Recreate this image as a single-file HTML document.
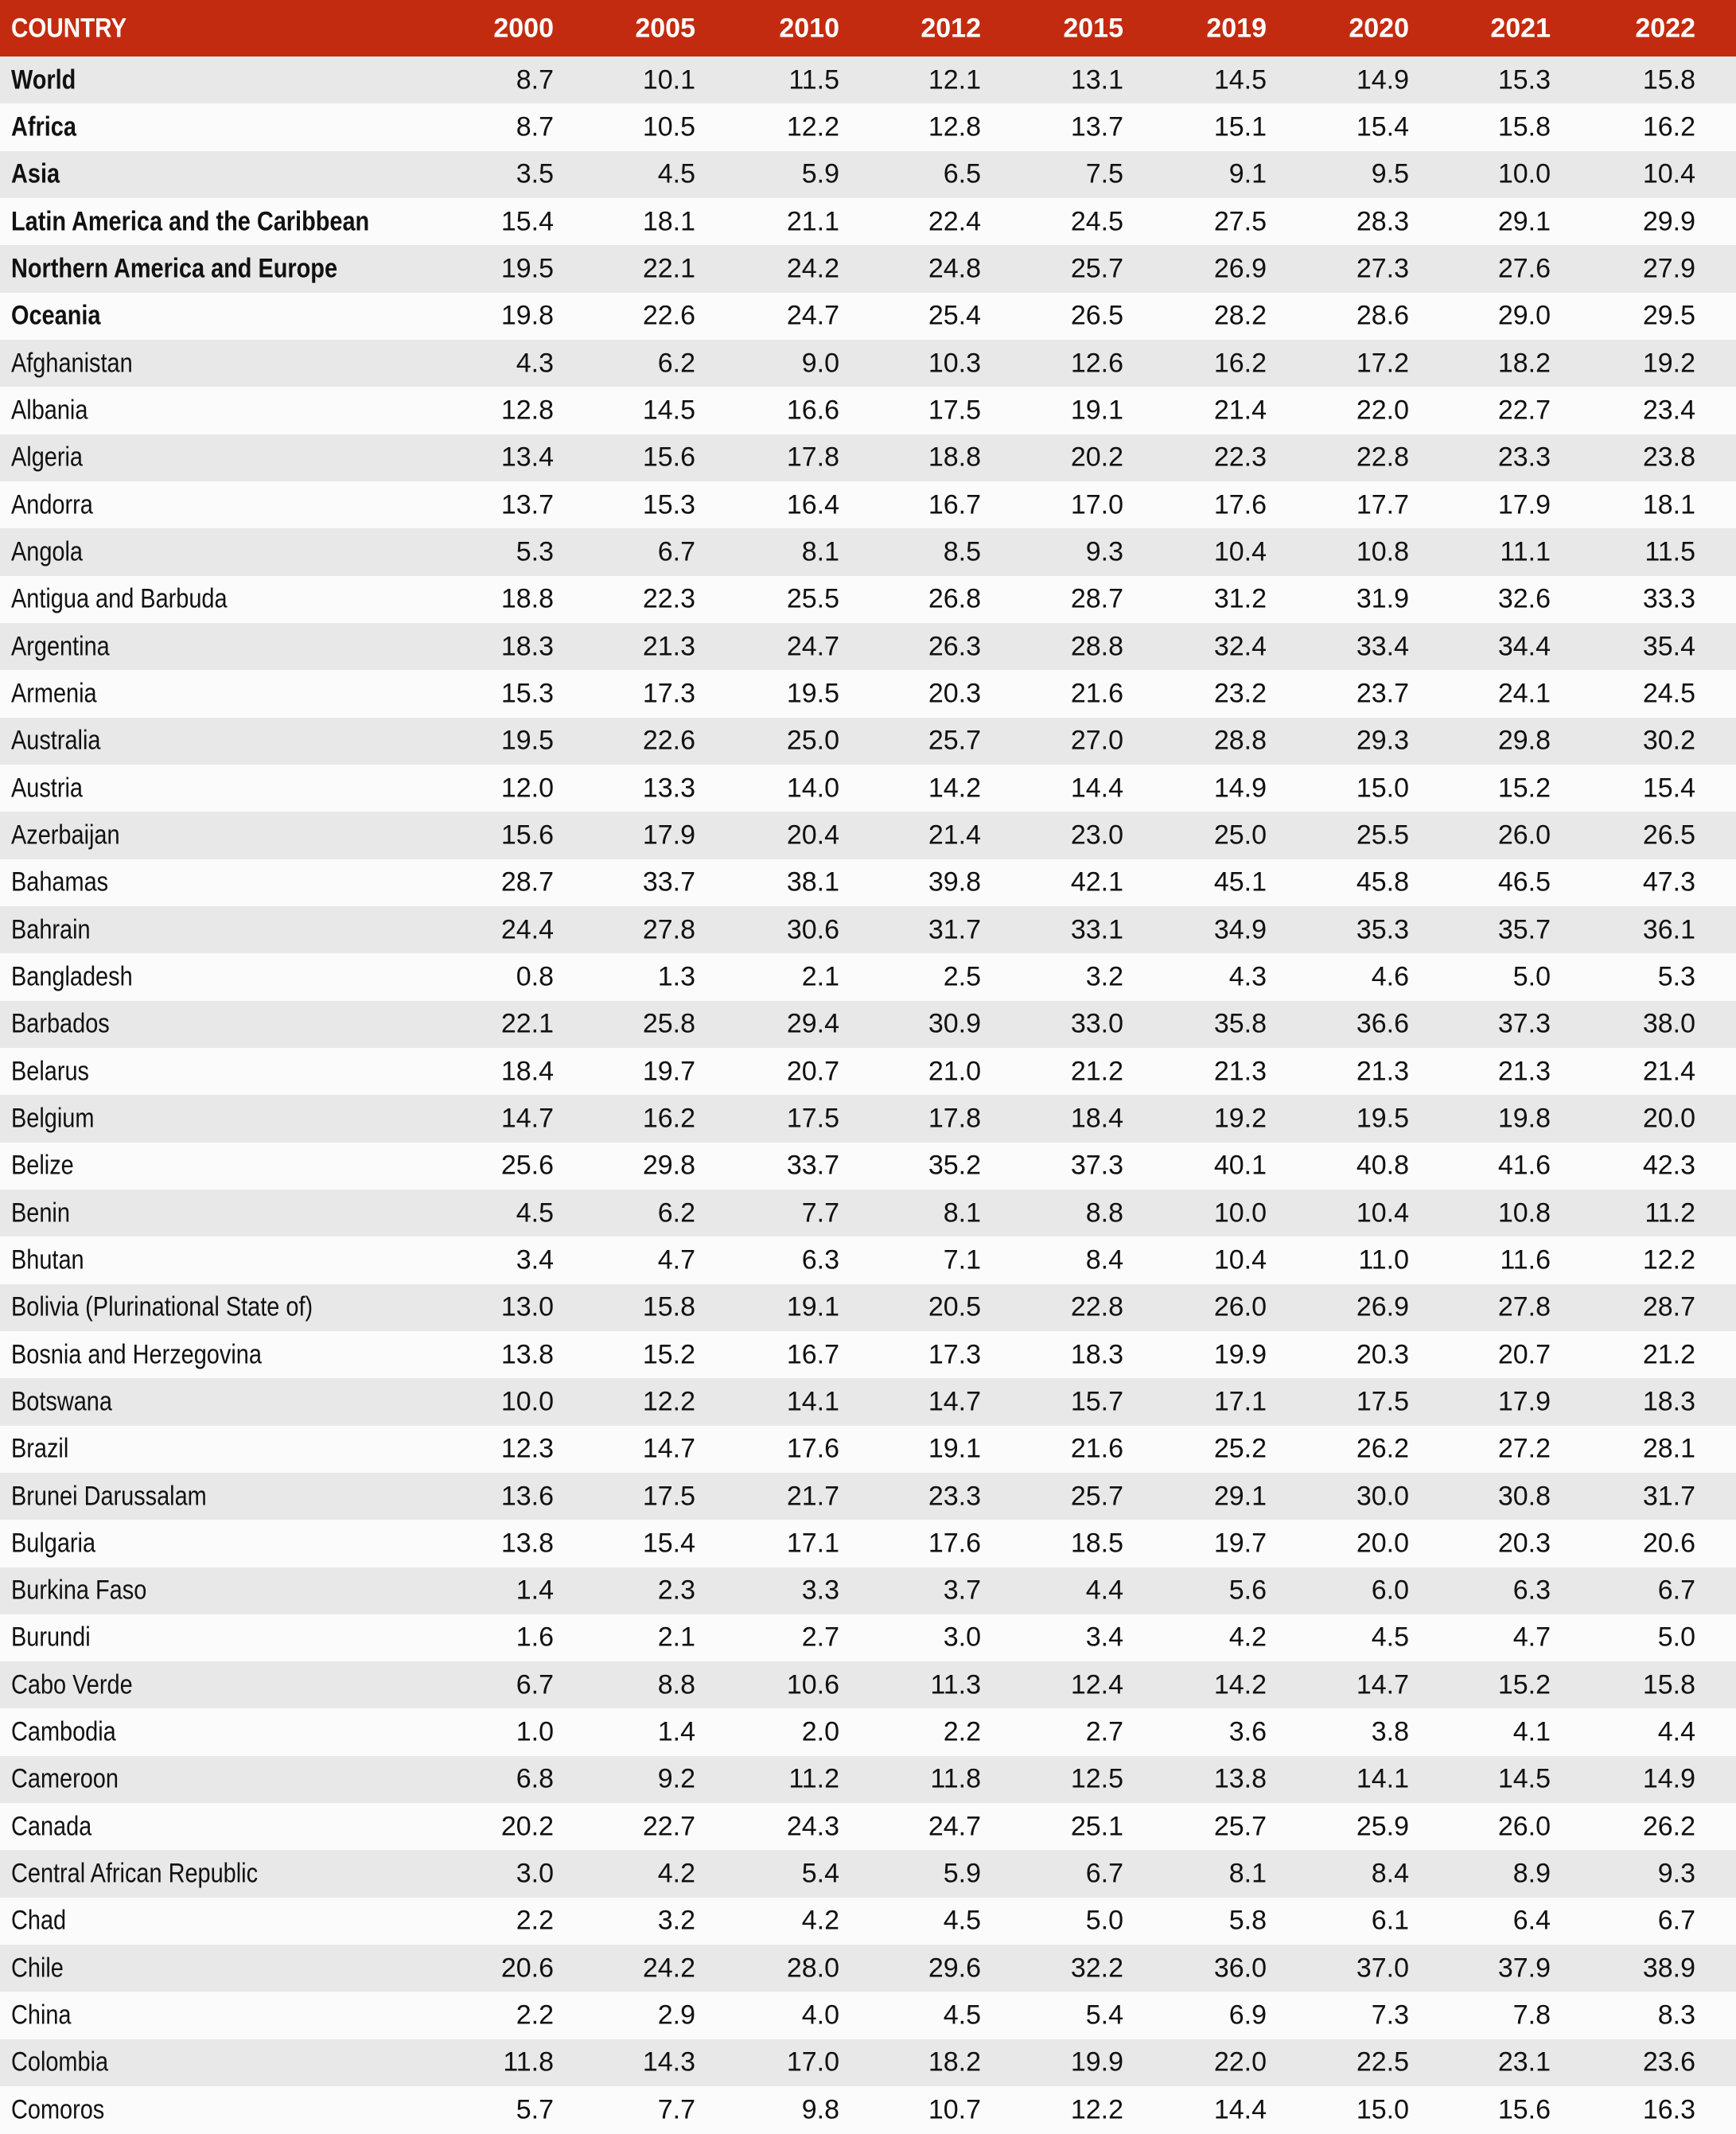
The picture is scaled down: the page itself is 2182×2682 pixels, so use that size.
<!DOCTYPE html>
<html><head><meta charset="utf-8"><style>
body{margin:0;width:2182px;height:2682px;background:#fbfbfb;font-family:"Liberation Sans",sans-serif;overflow:hidden}
.r{position:relative;height:59.34px;font-size:34px;color:#111}
.h{height:71px;background:#c32b10;color:#fff;font-weight:bold;position:relative;font-size:34px}
.n{position:absolute;left:14px;top:50%;transform:translateY(-50%) scaleX(0.85);transform-origin:left center;white-space:nowrap}
.v{position:absolute;top:50%;transform:translateY(-50%);text-align:right;width:150px}
.b .n{font-weight:bold}
.h+div>.r:nth-child(odd){background:#e8e8e8}.h+div>.r:nth-child(even){background:#fbfbfb}
</style></head><body>
<div id="t"></div>
<script>
var cols=[696,874,1055,1233,1412,1592,1771,1949,2131];
var hdr=["2000","2005","2010","2012","2015","2019","2020","2021","2022"];
var d=`World|8.7|10.1|11.5|12.1|13.1|14.5|14.9|15.3|15.8
Africa|8.7|10.5|12.2|12.8|13.7|15.1|15.4|15.8|16.2
Asia|3.5|4.5|5.9|6.5|7.5|9.1|9.5|10.0|10.4
Latin America and the Caribbean|15.4|18.1|21.1|22.4|24.5|27.5|28.3|29.1|29.9
Northern America and Europe|19.5|22.1|24.2|24.8|25.7|26.9|27.3|27.6|27.9
Oceania|19.8|22.6|24.7|25.4|26.5|28.2|28.6|29.0|29.5
Afghanistan|4.3|6.2|9.0|10.3|12.6|16.2|17.2|18.2|19.2
Albania|12.8|14.5|16.6|17.5|19.1|21.4|22.0|22.7|23.4
Algeria|13.4|15.6|17.8|18.8|20.2|22.3|22.8|23.3|23.8
Andorra|13.7|15.3|16.4|16.7|17.0|17.6|17.7|17.9|18.1
Angola|5.3|6.7|8.1|8.5|9.3|10.4|10.8|11.1|11.5
Antigua and Barbuda|18.8|22.3|25.5|26.8|28.7|31.2|31.9|32.6|33.3
Argentina|18.3|21.3|24.7|26.3|28.8|32.4|33.4|34.4|35.4
Armenia|15.3|17.3|19.5|20.3|21.6|23.2|23.7|24.1|24.5
Australia|19.5|22.6|25.0|25.7|27.0|28.8|29.3|29.8|30.2
Austria|12.0|13.3|14.0|14.2|14.4|14.9|15.0|15.2|15.4
Azerbaijan|15.6|17.9|20.4|21.4|23.0|25.0|25.5|26.0|26.5
Bahamas|28.7|33.7|38.1|39.8|42.1|45.1|45.8|46.5|47.3
Bahrain|24.4|27.8|30.6|31.7|33.1|34.9|35.3|35.7|36.1
Bangladesh|0.8|1.3|2.1|2.5|3.2|4.3|4.6|5.0|5.3
Barbados|22.1|25.8|29.4|30.9|33.0|35.8|36.6|37.3|38.0
Belarus|18.4|19.7|20.7|21.0|21.2|21.3|21.3|21.3|21.4
Belgium|14.7|16.2|17.5|17.8|18.4|19.2|19.5|19.8|20.0
Belize|25.6|29.8|33.7|35.2|37.3|40.1|40.8|41.6|42.3
Benin|4.5|6.2|7.7|8.1|8.8|10.0|10.4|10.8|11.2
Bhutan|3.4|4.7|6.3|7.1|8.4|10.4|11.0|11.6|12.2
Bolivia (Plurinational State of)|13.0|15.8|19.1|20.5|22.8|26.0|26.9|27.8|28.7
Bosnia and Herzegovina|13.8|15.2|16.7|17.3|18.3|19.9|20.3|20.7|21.2
Botswana|10.0|12.2|14.1|14.7|15.7|17.1|17.5|17.9|18.3
Brazil|12.3|14.7|17.6|19.1|21.6|25.2|26.2|27.2|28.1
Brunei Darussalam|13.6|17.5|21.7|23.3|25.7|29.1|30.0|30.8|31.7
Bulgaria|13.8|15.4|17.1|17.6|18.5|19.7|20.0|20.3|20.6
Burkina Faso|1.4|2.3|3.3|3.7|4.4|5.6|6.0|6.3|6.7
Burundi|1.6|2.1|2.7|3.0|3.4|4.2|4.5|4.7|5.0
Cabo Verde|6.7|8.8|10.6|11.3|12.4|14.2|14.7|15.2|15.8
Cambodia|1.0|1.4|2.0|2.2|2.7|3.6|3.8|4.1|4.4
Cameroon|6.8|9.2|11.2|11.8|12.5|13.8|14.1|14.5|14.9
Canada|20.2|22.7|24.3|24.7|25.1|25.7|25.9|26.0|26.2
Central African Republic|3.0|4.2|5.4|5.9|6.7|8.1|8.4|8.9|9.3
Chad|2.2|3.2|4.2|4.5|5.0|5.8|6.1|6.4|6.7
Chile|20.6|24.2|28.0|29.6|32.2|36.0|37.0|37.9|38.9
China|2.2|2.9|4.0|4.5|5.4|6.9|7.3|7.8|8.3
Colombia|11.8|14.3|17.0|18.2|19.9|22.0|22.5|23.1|23.6
Comoros|5.7|7.7|9.8|10.7|12.2|14.4|15.0|15.6|16.3`.split("\n");
var h='<div class="h"><span class="n" style="transform:translateY(-50%) scaleX(0.87)">COUNTRY</span>';
hdr.forEach(function(c,i){h+='<span class="v" style="left:'+(cols[i]-150)+'px">'+c+'</span>';});
h+='</div><div>';
d.forEach(function(l,k){var p=l.split("|");h+='<div class="r'+(k<6?' b':'')+'"><span class="n">'+p[0]+'</span>';
for(var i=1;i<p.length;i++)h+='<span class="v" style="left:'+(cols[i-1]-150)+'px">'+p[i]+'</span>';h+='</div>';});
h+='</div>';
document.getElementById("t").innerHTML=h;
</script>
</body></html>
